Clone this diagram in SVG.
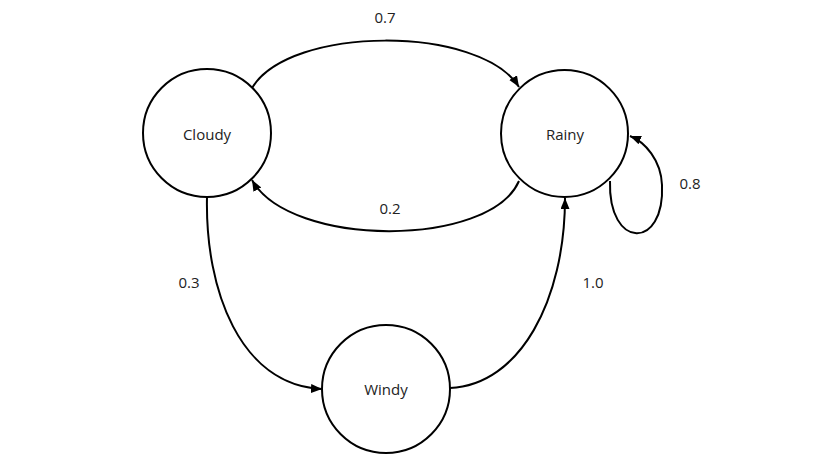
<svg xmlns="http://www.w3.org/2000/svg" width="826" height="472" viewBox="0 0 826 472">
<style>
.node{fill:#fff;stroke:#000;stroke-width:2}
.edge{fill:none;stroke:#000;stroke-width:2;marker-end:url(#arr)}
text{font-family:"Open Sans","Liberation Sans",sans-serif;font-size:15px;fill:#222;text-anchor:middle;dominant-baseline:central}
</style>
<defs>
<marker id="arr" markerUnits="userSpaceOnUse" markerWidth="12" markerHeight="10" refX="11" refY="4.5" orient="auto">
<path d="M0,0 L11,4.5 L0,9 z" fill="#000"/>
</marker>
</defs>
<rect width="826" height="472" fill="#fff"/>
<g id="connectors">
<path class="edge" d="M252,88 C290,25 480,25 519,87"/>
<path class="edge" d="M519,181 C490,248 290,248 252,180"/>
<path class="edge" d="M207,197 C205,290 240,385 322,389"/>
<path class="edge" d="M450,388 C520,385 565,300 565,198"/>
<path class="edge" d="M610,181 C608,250 665,250 662,185 C661,160 645,142 630,136"/>
<text x="385" y="17">0.7</text>
<text x="390" y="208">0.2</text>
<text x="690" y="183">0.8</text>
<text x="189" y="282">0.3</text>
<text x="593" y="282">1.0</text>
</g>
<g id="cloudy">
<circle class="node" cx="207" cy="133" r="64"/>
<text x="207" y="134">Cloudy</text>
</g>
<g id="rainy">
<circle class="node" cx="564.5" cy="133.5" r="63.5"/>
<text x="565" y="134">Rainy</text>
</g>
<g id="windy">
<circle class="node" cx="386" cy="389" r="64"/>
<text x="386" y="389">Windy</text>
</g>
</svg>
